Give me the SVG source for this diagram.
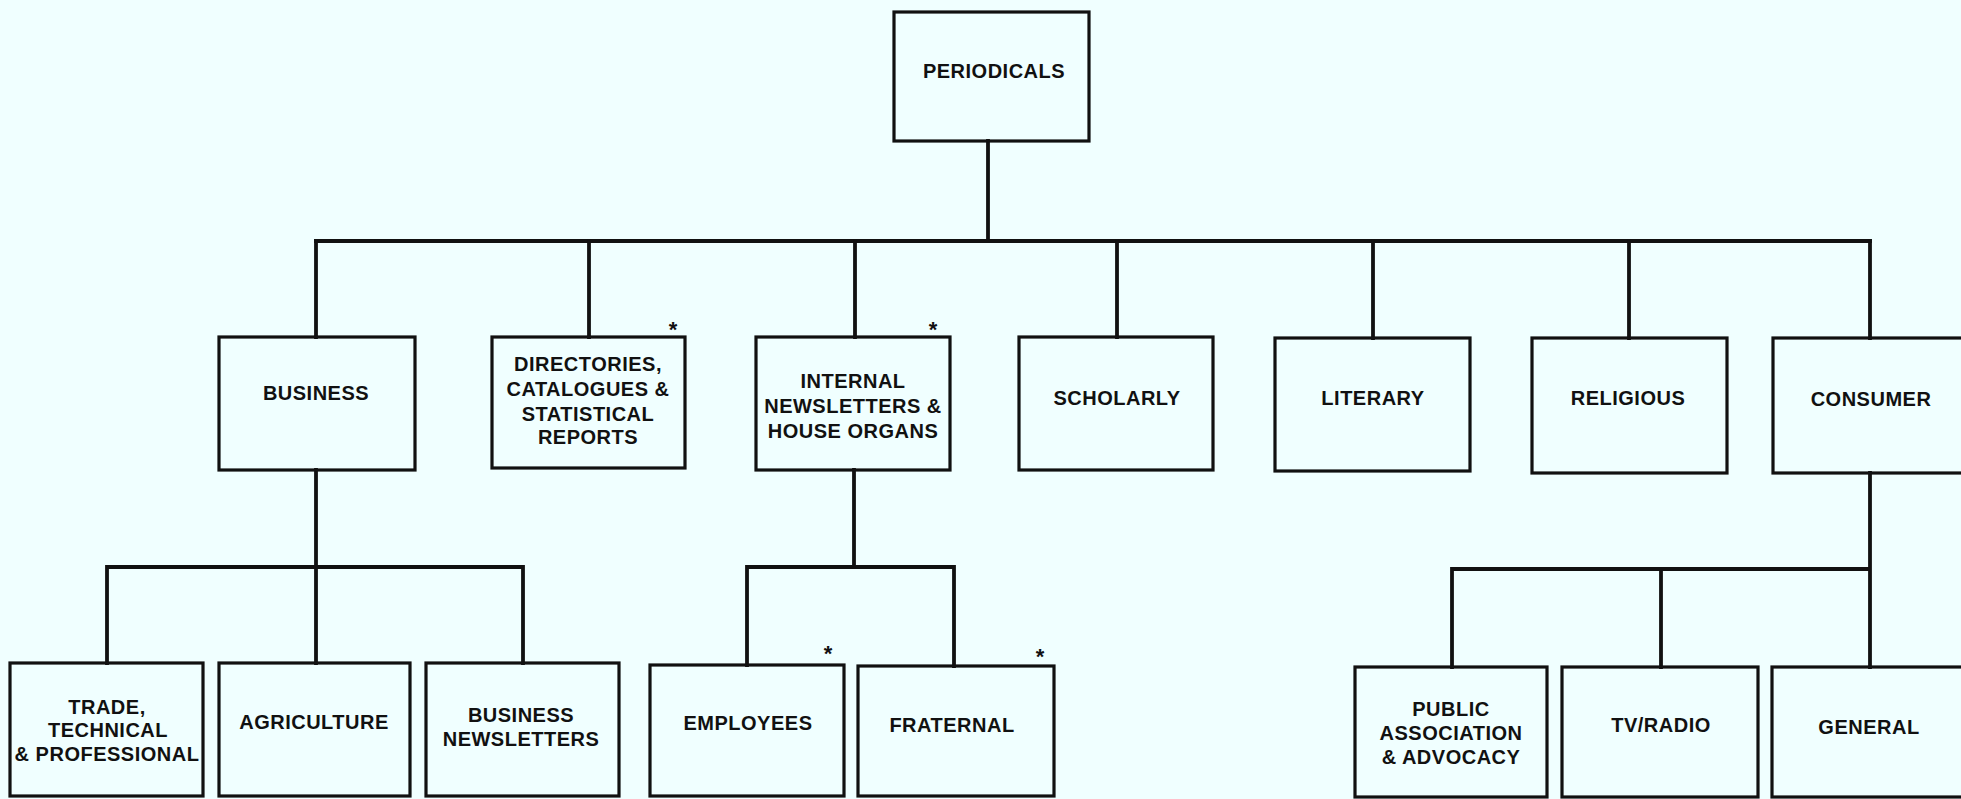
<svg xmlns="http://www.w3.org/2000/svg" width="1961" height="799" viewBox="0 0 1961 799">
  <style>
    .box { fill: none; stroke: #111; stroke-width: 3.2; }
    .wire { fill: none; stroke: #111; stroke-width: 3.8; stroke-linecap: square; }
    .lbl { font-family: "Liberation Sans", Arial, Helvetica, sans-serif; font-weight: bold; font-size: 20px; letter-spacing: 0.5px; fill: #111; text-anchor: middle; }
    .star { font-family: "Liberation Sans", Arial, sans-serif; font-weight: bold; font-size: 22px; fill: #111; text-anchor: middle; }
  </style>
  <rect width="1961" height="799" fill="#F0FFFF"/>

  <!-- tree connectors -->
  <g id="connectors">
    <path class="wire" d="M988 141 V241 M316 241 H1870"/>
    <path class="wire" d="M316 241 V337 M589 241 V337 M855 241 V337 M1117 241 V337 M1373 241 V338 M1629 241 V338 M1870 241 V338"/>
    <!-- business branch -->
    <path class="wire" d="M316 470 V663 M107 567 H523 M107 567 V663 M523 567 V663"/>
    <!-- internal newsletters branch -->
    <path class="wire" d="M854 470 V567 M747 567 H954 M747 567 V665 M954 567 V666"/>
    <!-- consumer branch -->
    <path class="wire" d="M1870 473 V667 M1452 569 H1870 M1452 569 V667 M1661 569 V667"/>
  </g>

  <g id="periodicals">
    <rect class="box" x="894" y="12" width="195" height="129"/>
    <text class="lbl" x="994" y="78">PERIODICALS</text>
  </g>

  <g id="business">
    <rect class="box" x="219" y="337" width="196" height="133"/>
    <text class="lbl" x="316" y="400">BUSINESS</text>
  </g>

  <g id="directories">
    <rect class="box" x="492" y="337" width="193" height="131"/>
    <text class="lbl" x="588" y="371">DIRECTORIES,</text>
    <text class="lbl" x="588" y="396">CATALOGUES &amp;</text>
    <text class="lbl" x="588" y="421">STATISTICAL</text>
    <text class="lbl" x="588" y="444">REPORTS</text>
    <text class="star" x="673" y="337">*</text>
  </g>

  <g id="internal">
    <rect class="box" x="756" y="337" width="194" height="133"/>
    <text class="lbl" x="853" y="388">INTERNAL</text>
    <text class="lbl" x="853" y="413">NEWSLETTERS &amp;</text>
    <text class="lbl" x="853" y="438">HOUSE ORGANS</text>
    <text class="star" x="933" y="337">*</text>
  </g>

  <g id="scholarly">
    <rect class="box" x="1019" y="337" width="194" height="133"/>
    <text class="lbl" x="1117" y="405">SCHOLARLY</text>
  </g>

  <g id="literary">
    <rect class="box" x="1275" y="338" width="195" height="133"/>
    <text class="lbl" x="1373" y="405">LITERARY</text>
  </g>

  <g id="religious">
    <rect class="box" x="1532" y="338" width="195" height="135"/>
    <text class="lbl" x="1628" y="405">RELIGIOUS</text>
  </g>

  <g id="consumer">
    <rect class="box" x="1773" y="338" width="200" height="135"/>
    <text class="lbl" x="1871" y="406">CONSUMER</text>
  </g>

  <g id="trade">
    <rect class="box" x="10" y="663" width="193" height="133"/>
    <text class="lbl" x="107" y="714">TRADE,</text>
    <text class="lbl" x="108" y="737">TECHNICAL</text>
    <text class="lbl" x="107" y="761">&amp; PROFESSIONAL</text>
  </g>

  <g id="agriculture">
    <rect class="box" x="219" y="663" width="191" height="133"/>
    <text class="lbl" x="314" y="729">AGRICULTURE</text>
  </g>

  <g id="business-newsletters">
    <rect class="box" x="426" y="663" width="193" height="133"/>
    <text class="lbl" x="521" y="722">BUSINESS</text>
    <text class="lbl" x="521" y="746">NEWSLETTERS</text>
  </g>

  <g id="employees">
    <rect class="box" x="650" y="665" width="194" height="131"/>
    <text class="lbl" x="748" y="730">EMPLOYEES</text>
    <text class="star" x="828" y="661">*</text>
  </g>

  <g id="fraternal">
    <rect class="box" x="858" y="666" width="196" height="130"/>
    <text class="lbl" x="952" y="732">FRATERNAL</text>
    <text class="star" x="1040" y="664">*</text>
  </g>

  <g id="public-association">
    <rect class="box" x="1355" y="667" width="192" height="130"/>
    <text class="lbl" x="1451" y="716">PUBLIC</text>
    <text class="lbl" x="1451" y="740">ASSOCIATION</text>
    <text class="lbl" x="1451" y="764">&amp; ADVOCACY</text>
  </g>

  <g id="tv-radio">
    <rect class="box" x="1562" y="667" width="196" height="130"/>
    <text class="lbl" x="1661" y="732">TV/RADIO</text>
  </g>

  <g id="general">
    <rect class="box" x="1772" y="667" width="200" height="130"/>
    <text class="lbl" x="1869" y="734">GENERAL</text>
  </g>
</svg>
